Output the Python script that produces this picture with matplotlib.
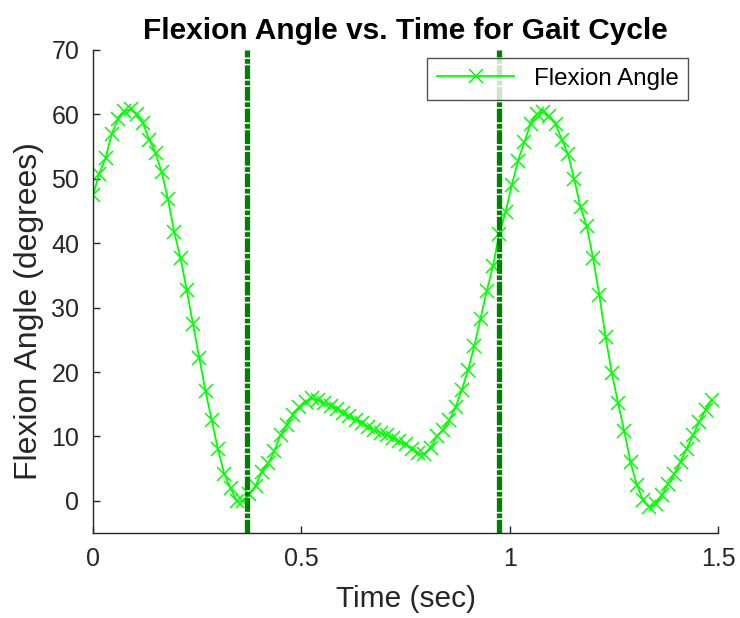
import matplotlib.pyplot as plt
import numpy as np

# sampled flexion angle (degrees), uniform time step
dt = 0.015
angle = [47.5, 50.8, 53.2, 57.0, 59.3, 60.5, 60.8, 60.0, 58.6, 56.1,
         54.0, 51.0, 46.8, 41.7, 37.7, 32.7, 27.4, 22.2, 17.0, 12.5,
         8.0, 4.2, 2.0, -0.1, -0.1, 1.0, 2.3, 4.5, 5.8, 7.7,
         10.2, 11.8, 13.4, 14.5, 15.4, 15.9, 15.6, 15.2, 14.8, 14.3,
         13.7, 13.1, 12.6, 12.1, 11.5, 11.0, 10.6, 10.2, 9.8, 9.3,
         8.8, 8.0, 7.4, 7.2, 8.2, 10.0, 11.0, 12.5, 14.5, 17.2,
         20.3, 24.0, 28.3, 32.6, 36.5, 41.5, 44.8, 49.0, 52.8, 55.7,
         58.5, 60.0, 60.4, 59.7, 58.5, 56.1, 53.8, 49.9, 45.6, 42.6,
         37.7, 32.0, 25.5, 19.9, 15.2, 10.8, 6.0, 2.5, 0.1, -1.0,
         -0.5, 0.9, 2.6, 4.1, 6.1, 8.1, 10.2, 12.3, 14.1, 15.7]
t = np.arange(len(angle)) * dt

# gait events (sec)
events = [0.369, 0.974]

xticks = [0, 0.5, 1, 1.5]
yticks = list(range(0, 80, 10))

plt.rcParams['font.family'] = ['Liberation Sans', 'DejaVu Sans']
grey = (0.15, 0.15, 0.15)

fig = plt.figure(figsize=(7.4, 6.18), dpi=100)
ax = fig.add_axes([0.1257, 0.1375, 0.8446, 0.7816])

ax.plot(t, angle, '-x', color=(0, 1, 0), lw=1.3, ms=10.5, mew=1.1,
        label='Flexion Angle')
for e in events:
    ax.plot([e, e], [-5, 70], color=(0, 0.5, 0), lw=3.8,
            linestyle=(0, (2.6, 0.3, 0.9, 0.3)), solid_capstyle='butt')

ax.set_xlim(0, 1.5)
ax.set_ylim(-5, 70)
ax.set_xticks(xticks)
ax.set_xticklabels(['0', '0.5', '1', '1.5'])
ax.set_yticks(yticks)

for s in ['top', 'right']:
    ax.spines[s].set_visible(False)
for s in ['left', 'bottom']:
    ax.spines[s].set_color(grey)
    ax.spines[s].set_linewidth(1.0)
ax.tick_params(direction='in', length=5, width=1, colors=grey,
               labelsize=18, pad=10)

ax.set_xlabel('Time (sec)', fontsize=21.5, color=grey, labelpad=10)
ax.set_ylabel('Flexion Angle (degrees)', fontsize=23, color=grey)
ax.yaxis.set_label_coords(-0.078, 0.46)
ax.set_title('Flexion Angle vs. Time for Gait Cycle', fontsize=21.5,
             fontweight='bold', pad=8)

leg = ax.legend(loc='upper right', bbox_to_anchor=(0.952, 0.983),
                fontsize=17.4, frameon=True, fancybox=False,
                handlelength=3.2, borderpad=0.4, borderaxespad=0)
leg.get_frame().set_edgecolor(grey)
leg.get_frame().set_linewidth(1.0)

fig.savefig('out.png', dpi=100)
